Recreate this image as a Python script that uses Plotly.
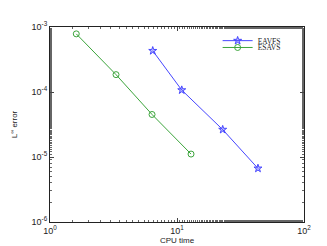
import plotly.graph_objects as go

eavfs_cpu = [6.44, 10.9, 22.9, 43.4]
eavfs_err = [4.31e-4, 1.07e-4, 2.64e-5, 6.68e-6]
esavs_cpu = [1.61, 3.31, 6.36, 12.9]
esavs_err = [7.84e-4, 1.85e-4, 4.51e-5, 1.11e-5]

x_tickvals = [1, 10, 100]
x_ticktext = ["10<sup>0</sup>", "10<sup>1</sup>", "10<sup>2</sup>"]
y_tickvals = [1e-6, 1e-5, 1e-4, 1e-3]
y_ticktext = ["10<sup>-6</sup>", "10<sup>-5</sup>", "10<sup>-4</sup>", "10<sup>-3</sup>"]

BLUE = "rgb(70,70,255)"
GREEN = "rgb(60,165,60)"

fig = go.Figure()
fig.add_trace(go.Scatter(x=eavfs_cpu, y=eavfs_err, name="EAVFS", mode="lines+markers",
                         legend="legend",
                         line=dict(color=BLUE, width=1),
                         marker=dict(symbol="star", size=6, color="rgba(70,70,255,0.35)",
                                     line=dict(color=BLUE, width=1))))
fig.add_trace(go.Scatter(x=esavs_cpu, y=esavs_err, name="ESAVS", mode="lines+markers",
                         legend="legend2",
                         line=dict(color=GREEN, width=1),
                         marker=dict(symbol="circle-open", size=6,
                                     line=dict(color=GREEN, width=1))))

axis_common = dict(type="log", showline=True, linecolor="#222", linewidth=1, mirror="allticks",
                   ticks="inside", ticklen=4, tickcolor="#444", showgrid=False, zeroline=False,
                   tickfont=dict(family="Liberation Sans, Arial", size=9, color="#222"),
                   minor=dict(ticks="inside", ticklen=2, tickcolor="#666", showgrid=False))

fig.update_xaxes(range=[0, 2], tickvals=x_tickvals, ticktext=x_ticktext, automargin=True,
                 title=dict(text="CPU time", font=dict(family="Liberation Sans, Arial", size=8, color="#222"),
                            standoff=1), **axis_common)
fig.update_yaxes(range=[-6, -3], tickvals=y_tickvals, ticktext=y_ticktext, automargin=False,
                 title=dict(text="L<sup>∞</sup> error", font=dict(family="Liberation Sans, Arial", size=8, color="#222"),
                            standoff=12), **axis_common)

leg_common = dict(xanchor="left", yanchor="middle", bgcolor="rgba(0,0,0,0)",
                  font=dict(family="Liberation Serif, Times New Roman", size=7.5, color="#222"),
                  itemwidth=30, borderwidth=0)
fig.update_layout(width=327, height=246, margin=dict(l=42, r=31, t=19, b=28),
                  plot_bgcolor="white", paper_bgcolor="white", showlegend=True,
                  legend=dict(x=0.66, y=0.93, **leg_common),
                  legend2=dict(x=0.66, y=0.895, **leg_common))

fig.write_html("out.html")
